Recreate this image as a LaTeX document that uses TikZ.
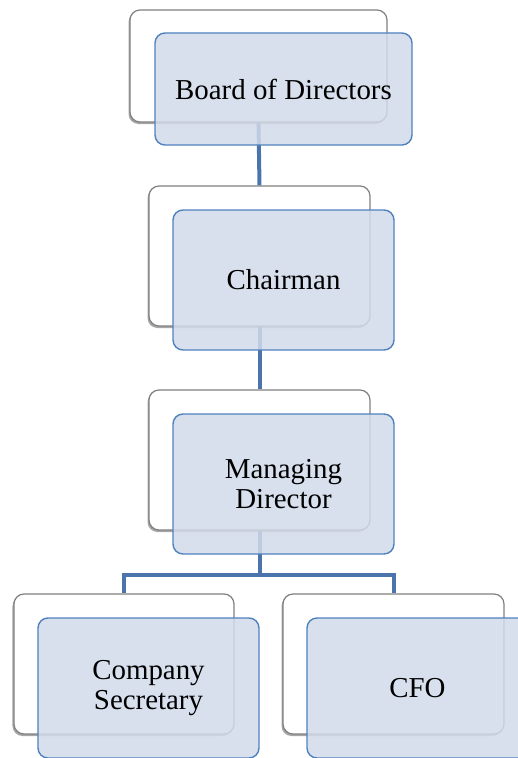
\documentclass[tikz,border=0pt]{standalone}
\usepackage{fontspec}
\setmainfont{Liberation Serif}
\usetikzlibrary{shadows}
\definecolor{connc}{RGB}{74,116,171}
\definecolor{frontfill}{RGB}{210,219,234}
\definecolor{frontdraw}{RGB}{79,129,189}
\definecolor{backdraw}{RGB}{128,128,128}
\tikzset{
  backbox/.style={draw=backdraw, line width=1.2bp, fill=white, rounded corners=10bp,
    inner sep=0pt, minimum width=221bp, minimum height=140bp,
    drop shadow={shadow xshift=-1.5bp, shadow yshift=-2bp, opacity=0.35, fill=black}},
  frontbox/.style={draw=frontdraw, line width=1.4bp, fill=frontfill, fill opacity=0.85,
    text opacity=1, rounded corners=10bp, inner sep=0pt,
    minimum width=221bp, minimum height=140bp, align=center,
    font=\fontsize{29}{30}\selectfont},
  conn/.style={draw=connc, line width=4bp}
}
\begin{document}
\begin{tikzpicture}[x=1bp,y=-1bp]
\useasboundingbox (0,0) rectangle (518,758);
\clip (0,0) rectangle (518,758);
% back boxes
\node[backbox, minimum width=257bp, minimum height=112bp] (bodb) at (258.5,66) {};
\node[backbox] (chb) at (259.5,256) {};
\node[backbox] (mdb) at (259.5,460) {};
\node[backbox, minimum width=220bp] (csb) at (124,664) {};
\node[backbox] (cfob) at (393.5,664) {};
% connectors (drawn over back boxes, under front boxes)
\draw[conn] (bodb.south) -- (chb.north);
\draw[conn] (chb.south) -- (mdb.north);
\draw[conn] (mdb.south) -- ++(0,44) coordinate (fork) -| (csb.north);
\draw[conn] (fork) -| (cfob.north);
% front boxes
\node[frontbox, minimum width=257bp, minimum height=112bp] (bod) at (283.5,89) {Board of Directors};
\node[frontbox] (ch) at (283.5,280) {Chairman};
\node[frontbox] (md) at (283.5,484) {Managing\\Director};
\node[frontbox] (cs) at (148.5,688) {Company\\Secretary};
\node[frontbox] (cfo) at (417.5,688) {CFO};
\end{tikzpicture}
\end{document}
